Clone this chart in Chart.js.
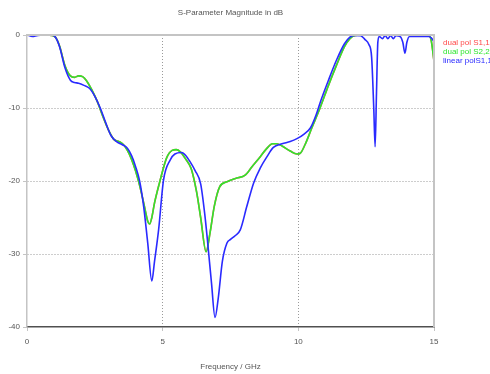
<!DOCTYPE html>
<html>
<head>
<meta charset="utf-8">
<script src="https://cdn.jsdelivr.net/npm/chart.js@4/dist/chart.umd.min.js"></script>
<style>
    html, body { margin: 0; padding: 0; background: #fff; }
    #wrap { width: 490px; height: 374px; }
</style>
</head>
<body>
<div id="wrap"><canvas id="chart-sparam" width="490" height="374"></canvas></div>
<script>
const chartTitle = 'S-Parameter Magnitude in dB';
const xTitle = 'Frequency / GHz';
const legendLabels = ['dual pol S1,1', 'dual pol S2,2', 'linear polS1,1'];

// dual pol S2,2 (S1,1 lies right under it)
const dualFreq = [0, 0.5, 0.9, 1.05, 1.2, 1.4, 1.6, 1.75, 1.9, 2.05, 2.2, 2.4, 2.6, 2.8, 3.0, 3.2, 3.4, 3.55, 3.7, 3.85,
    4.0, 4.15, 4.3, 4.45, 4.52, 4.6, 4.7, 4.9, 5.15, 5.35, 5.5, 5.65, 5.85, 6.05, 6.25, 6.4, 6.6, 6.75, 6.9, 7.1,
    7.37, 7.73, 8.04, 8.3, 8.59, 8.8, 9.05, 9.2, 9.4, 9.7, 9.95, 10.07, 10.25, 10.5, 10.8, 11.1, 11.4, 11.7, 11.9, 12.1,
    12.5, 14.8, 14.9, 15.0];
const dualDb = [0, 0, -0.05, -0.3, -1.5, -4.2, -5.6, -5.8, -5.6, -5.7, -6.3, -7.6, -9.2, -11.2, -13.0, -14.3, -14.6, -15.0, -15.8, -17.0,
    -18.6, -20.6, -23.0, -25.5, -25.9, -25.0, -23.0, -20.0, -16.8, -15.8, -15.7, -16.0, -17.0, -18.3, -21.5, -25.0, -29.7, -27.0, -23.5, -20.8,
    -20.1, -19.6, -19.2, -18.0, -16.7, -15.7, -14.9, -14.9, -15.2, -15.9, -16.3, -16.2, -15.0, -12.7, -10.0, -7.0, -4.2, -1.6, -0.5, -0.05,
    0, 0, -0.8, -3.6];

// linear pol S1,1
const linFreq = [0, 0.2, 0.4, 0.9, 1.05, 1.2, 1.4, 1.6, 1.75, 1.9, 2.1, 2.3, 2.5, 2.7, 2.9, 3.1, 3.3, 3.5, 3.7, 3.85,
    4.0, 4.15, 4.3, 4.45, 4.6, 4.7, 4.85, 5.03, 5.28, 5.45, 5.7, 5.85, 6.0, 6.2, 6.4, 6.55, 6.65, 6.8, 6.93, 7.05,
    7.2, 7.37, 7.5, 7.67, 7.86, 8.1, 8.35, 8.6, 8.84, 9.08, 9.4, 9.7, 9.95, 10.2, 10.45, 10.65, 10.8, 11.1, 11.4, 11.7,
    11.9, 12.05, 12.3, 12.45, 12.6, 12.7, 12.78, 12.83, 12.88, 12.93, 12.98, 13.1, 13.2, 13.3, 13.4, 13.5, 13.6, 13.75, 13.85, 13.93,
    14.0, 14.1, 14.8, 14.9, 15.0];
const linDb = [0, -0.2, -0.05, 0, -0.3, -1.6, -4.5, -6.2, -6.5, -6.6, -6.9, -7.3, -8.4, -10.0, -12.0, -13.8, -14.6, -15.0, -15.5, -16.5,
    -18.0, -20.0, -23.5, -28.5, -33.7, -31.0, -26.7, -19.9, -17.1, -16.3, -16.1, -16.5, -17.3, -18.6, -20.4, -24.5, -28.1, -34.0, -38.7, -36.0,
    -31.0, -28.5, -28.0, -27.5, -26.7, -23.5, -20.3, -18.2, -16.7, -15.4, -14.9, -14.6, -14.2, -13.6, -12.7, -11.0, -9.3, -6.3, -3.5, -1.2,
    -0.3, -0.05, -0.1, -0.6, -1.3, -3.0, -10.0, -15.3, -8.0, -1.0, -0.2, -0.5, -0.1, -0.5, -0.1, -0.5, -0.1, -0.2, -1.0, -2.5,
    -1.0, -0.2, -0.2, -0.4, -0.9];

const colors = {
    red: '#ff4848',
    green: '#2ee62e',
    blue: '#2a2aff',
    text: '#555555',
    grid: '#9a9a9a',
    frame: '#c4c4c4',
    axis: '#505050'
};

function toPoints(freq, db) {
    return freq.map((f, i) => ({ x: f, y: db[i] }));
}

function lineSet(label, freq, db, color, order) {
    return {
        label: label,
        data: toPoints(freq, db),
        borderColor: color,
        backgroundColor: color,
        borderWidth: 1.6,
        pointRadius: 0,
        cubicInterpolationMode: 'monotone',
        fill: false,
        order: order
    };
}

const framePlugin = {
    id: 'frame',
    afterDraw(chart) {
        const ctx = chart.ctx;
        const a = chart.chartArea;
        ctx.save();
        // top and right frame
        ctx.strokeStyle = colors.frame;
        ctx.lineWidth = 2;
        ctx.beginPath();
        ctx.moveTo(a.left, a.top);
        ctx.lineTo(a.right, a.top);
        ctx.lineTo(a.right, a.bottom);
        ctx.stroke();

        ctx.fillStyle = colors.text;
        ctx.font = '8px "Liberation Sans", Arial, sans-serif';
        ctx.textAlign = 'center';
        ctx.textBaseline = 'middle';
        ctx.fillText(chartTitle, (a.left + a.right) / 2, 13);

        // legend, text only
        const legendColors = [colors.red, colors.green, colors.blue];
        ctx.textAlign = 'left';
        legendLabels.forEach((txt, i) => {
            ctx.fillStyle = legendColors[i];
            ctx.fillText(txt, a.right + 9, 43 + i * 8.7);
        });
        ctx.restore();
    }
};

document.addEventListener('DOMContentLoaded', () => {
    const tickFont = { family: '"Liberation Sans", Arial, sans-serif', size: 8 };

    new Chart(document.getElementById('chart-sparam'), {
        type: 'line',
        data: {
            datasets: [
                lineSet(legendLabels[0], dualFreq, dualDb, colors.red, 2),
                lineSet(legendLabels[1], dualFreq, dualDb, colors.green, 1),
                lineSet(legendLabels[2], linFreq, linDb, colors.blue, 0)
            ]
        },
        options: {
            responsive: false,
            animation: false,
            layout: { padding: { top: 35, right: 56, left: 0, bottom: 0 } },
            plugins: {
                legend: { display: false },
                title: { display: false },
                tooltip: { enabled: false }
            },
            scales: {
                x: {
                    type: 'linear',
                    min: 0,
                    max: 15,
                    ticks: { stepSize: 5, color: colors.text, font: tickFont, padding: 6, maxRotation: 0 },
                    grid: {
                        color: (ctx) => (ctx.tick && (ctx.tick.value === 0 || ctx.tick.value === 15)) ? 'rgba(0,0,0,0)' : colors.grid,
                        lineWidth: 1,
                        tickLength: 4,
                        tickColor: colors.frame
                    },
                    // in v4 border.dash is the dash of the grid lines
                    border: { display: true, color: colors.axis, width: 1.5, dash: [1, 2] },
                    title: { display: true, text: xTitle, color: colors.text, font: tickFont, padding: { top: 4, bottom: 2 } },
                    afterFit(scale) { scale.height = 47; }
                },
                y: {
                    type: 'linear',
                    min: -40,
                    max: 0,
                    ticks: { stepSize: 10, color: colors.text, font: tickFont, padding: 3 },
                    grid: {
                        color: (ctx) => (ctx.tick && (ctx.tick.value === 0 || ctx.tick.value === -40)) ? 'rgba(0,0,0,0)' : colors.grid,
                        lineWidth: 1,
                        tickLength: 4,
                        tickColor: colors.frame
                    },
                    border: { display: true, color: colors.frame, width: 1.5, dash: [1, 2] },
                    afterFit(scale) { scale.width = 27; }
                }
            },
            elements: { line: { borderJoinStyle: 'round' } }
        },
        plugins: [framePlugin]
    });
});
</script>
</body>
</html>
